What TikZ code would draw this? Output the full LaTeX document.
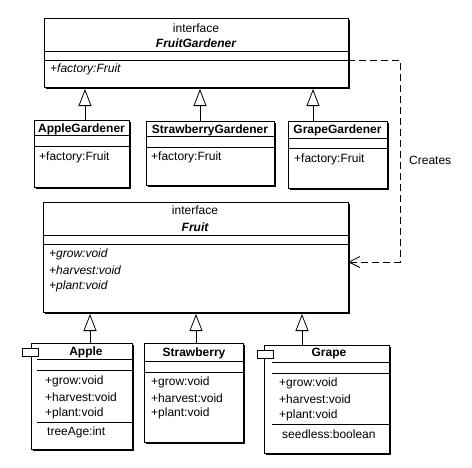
\documentclass[tikz,border=0pt]{standalone}
\usepackage{fontspec}
\setmainfont{Liberation Sans}
\usetikzlibrary{arrows.meta,calc}
\tikzset{
  classbox/.style={draw, line width=0.9pt, fill=white, inner sep=0pt, outer sep=0pt, anchor=north west},
  shadowline/.style={line width=1.8pt},
  sep/.style={line width=0.8pt},
  txt/.style={inner sep=0pt, font=\fontsize{12}{13}\selectfont},
  ltxt/.style={txt, anchor=west},
  tabbox/.style={draw, line width=0.8pt, fill=white, minimum width=16pt, minimum height=8pt, inner sep=0pt},
  inherit/.style={line width=0.8pt, -{Triangle[open, length=17pt, width=13pt]}, shorten >=2pt},
  dep/.style={line width=0.8pt, dash pattern=on 7pt off 4pt, -{Straight Barb[length=11pt, width=11pt]}},
}
\newcommand\classframe[5]{%
  \node[classbox, minimum width=#4pt, minimum height=#5pt] (#1) at (#2,#3) {};
  \draw[shadowline] ([xshift=2pt,yshift=-1pt]#1.south west) -- ([xshift=1pt,yshift=-1pt]#1.south east) -- ([xshift=1pt,yshift=-2pt]#1.north east);
}
\begin{document}
\begin{tikzpicture}[x=1pt,y=-1pt]
\useasboundingbox (0,0) rectangle (472,467);

% ---------- FruitGardener ----------
\classframe{FG}{44}{18}{304}{69}
\draw[sep] (FG.west |- 0,51) -- (FG.east |- 0,51);
\draw[sep] (FG.west |- 0,60) -- (FG.east |- 0,60);
\node[txt] (fgst) at (196,28) {interface};
\node[txt] (fgname) at (196,43) {\bfseries\itshape FruitGardener};
\node[ltxt] (fgm) at (50,69) {\itshape +factory:Fruit};

% ---------- Gardeners ----------
\classframe{AG}{34}{120}{95}{67}
\draw[sep] (AG.west |- 0,135) -- (AG.east |- 0,135);
\draw[sep] (AG.west |- 0,146) -- (AG.east |- 0,146);
\node[txt] (agname) at (81.5,129) {\bfseries AppleGardener};
\node[ltxt] (agm) at (39,157) {+factory:Fruit};

\classframe{SG}{146}{121}{128}{64}
\draw[sep] (SG.west |- 0,136) -- (SG.east |- 0,136);
\draw[sep] (SG.west |- 0,147) -- (SG.east |- 0,147);
\node[txt] (sgname) at (210,130) {\bfseries StrawberryGardener};
\node[ltxt] (sgm) at (151,157) {+factory:Fruit};

\classframe{GG}{288}{121}{99}{67}
\draw[sep] (GG.west |- 0,138) -- (GG.east |- 0,138);
\draw[sep] (GG.west |- 0,148) -- (GG.east |- 0,148);
\node[txt] (ggname) at (337.5,130) {\bfseries GrapeGardener};
\node[ltxt] (ggm) at (294,159) {+factory:Fruit};

\draw[inherit] (AG.north -| 85,0) -- (FG.south -| 85,0);
\draw[inherit] (SG.north -| 200,0) -- (FG.south -| 200,0);
\draw[inherit] (GG.north -| 313,0) -- (FG.south -| 313,0);

% ---------- Fruit ----------
\classframe{FR}{43}{202}{305}{110}
\draw[sep] (FR.west |- 0,235) -- (FR.east |- 0,235);
\draw[sep] (FR.west |- 0,244) -- (FR.east |- 0,244);
\node[txt] (frst) at (195,210) {interface};
\node[txt] (frname) at (195,227) {\bfseries\itshape Fruit};
\node[ltxt] (frm1) at (49,254) {\itshape +grow:void};
\node[ltxt] (frm2) at (49,270) {\itshape +harvest:void};
\node[ltxt] (frm3) at (49,286) {\itshape +plant:void};

% ---------- Creates dependency ----------
\coordinate (c1) at (400,60);
\coordinate (c2) at (400,262);
\draw[dep] (FG.east |- c1) -- (c1) -- (c2) -- (FR.east |- c2);
\node[ltxt] (creates) at (409,160) {Creates};

% ---------- Apple ----------
\classframe{AP}{31}{343}{101}{106}
\draw[sep] (37,359) -- (AP.east |- 0,359);
\draw[sep] (37,370) -- (AP.east |- 0,370);
\draw[sep] (37,422) -- (AP.east |- 0,422);
\node[tabbox] (aptab) at (30,352) {};
\node[txt] (apname) at (86,352) {\bfseries Apple};
\node[ltxt] (apm1) at (45,381) {+grow:void};
\node[ltxt] (apm2) at (45,397) {+harvest:void};
\node[ltxt] (apm3) at (45,413) {+plant:void};
\node[ltxt] (apa) at (47,432) {treeAge:int};

% ---------- Strawberry ----------
\classframe{ST}{144}{343}{99}{99}
\draw[sep] (ST.west |- 0,361) -- (ST.east |- 0,361);
\draw[sep] (ST.west |- 0,372) -- (ST.east |- 0,372);
\node[txt] (stname) at (194,353) {\bfseries Strawberry};
\node[ltxt] (stm1) at (151,382) {+grow:void};
\node[ltxt] (stm2) at (151,398) {+harvest:void};
\node[ltxt] (stm3) at (151,413) {+plant:void};

% ---------- Grape ----------
\classframe{GR}{264}{345}{125}{108}
\draw[sep] (272,362) -- (GR.east |- 0,362);
\draw[sep] (272,373) -- (GR.east |- 0,373);
\draw[sep] (272,424) -- (GR.east |- 0,424);
\node[tabbox] (grtab) at (265,354) {};
\node[txt] (grname) at (329,354) {\bfseries Grape};
\node[ltxt] (grm1) at (279,383) {+grow:void};
\node[ltxt] (grm2) at (279,399) {+harvest:void};
\node[ltxt] (grm3) at (279,415) {+plant:void};
\node[ltxt] (gra) at (282,434) {seedless:boolean};

\draw[inherit] (AP.north -| 90,0) -- (FR.south -| 90,0);
\draw[inherit] (ST.north -| 196,0) -- (FR.south -| 196,0);
\draw[inherit] (GR.north -| 302,0) -- (FR.south -| 302,0);
\end{tikzpicture}
\end{document}
